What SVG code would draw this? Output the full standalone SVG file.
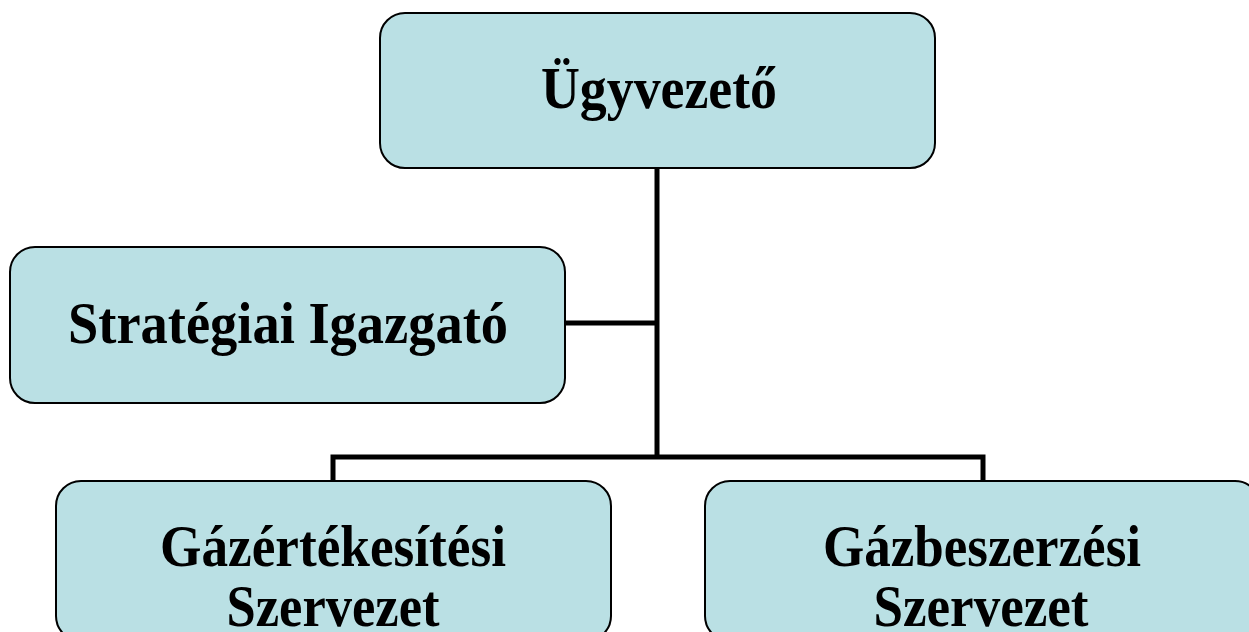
<svg xmlns="http://www.w3.org/2000/svg" width="1249" height="632" viewBox="0 0 1249 632">
<style>
.box{fill:#bae0e4;stroke:#000;stroke-width:2}
.t{font-family:"Liberation Serif","Times New Roman",serif;font-weight:bold;font-size:59px;fill:#000;text-anchor:middle}
.c{fill:none;stroke:#000;stroke-width:5}
</style>
<rect width="1249" height="632" fill="#fff"/>
<g id="connectors">
<path class="c" d="M657 168V457"/>
<path class="c" d="M565 323H657"/>
<path class="c" d="M333 481V457H983V481"/>
</g>
<g id="n-ugyvezeto">
<rect class="box" x="380" y="13" width="555" height="155" rx="25"/>
<text class="t" x="659" y="108" textLength="236" lengthAdjust="spacingAndGlyphs">Ügyvezető</text>
</g>
<g id="n-strategiai">
<rect class="box" x="10" y="247" width="555" height="156" rx="25"/>
<text class="t" x="288" y="343" textLength="440" lengthAdjust="spacingAndGlyphs">Stratégiai Igazgató</text>
</g>
<g id="n-gazertekesitesi">
<rect class="box" x="56" y="481" width="555" height="160" rx="25"/>
<text class="t" x="333" y="566" textLength="346" lengthAdjust="spacingAndGlyphs">Gázértékesítési</text>
<text class="t" x="333" y="626" textLength="213" lengthAdjust="spacingAndGlyphs">Szervezet</text>
</g>
<g id="n-gazbeszerzesi">
<rect class="box" x="705" y="481" width="555" height="160" rx="25"/>
<text class="t" x="982" y="566" textLength="318" lengthAdjust="spacingAndGlyphs">Gázbeszerzési</text>
<text class="t" x="981" y="626" textLength="215" lengthAdjust="spacingAndGlyphs">Szervezet</text>
</g>
</svg>
